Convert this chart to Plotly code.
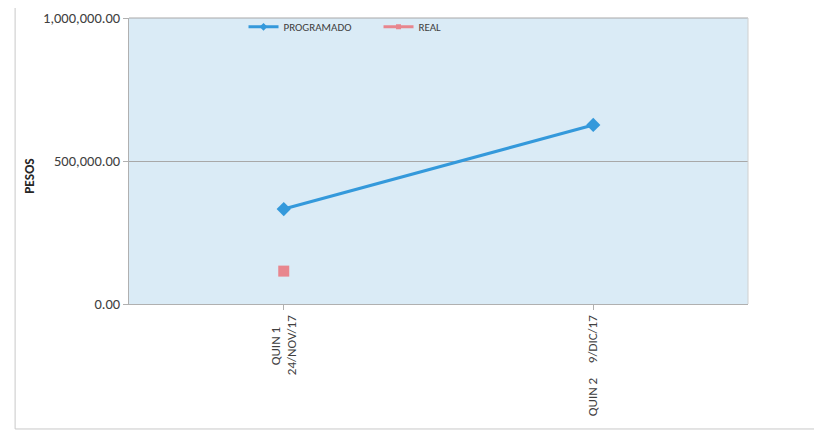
import plotly.graph_objects as go

NB = "\u00a0"
categories = ["QUIN 1" + NB * 4 + "<br>24/NOV/17", "QUIN 2" + NB * 5 + "9/DIC/17"]
programado = [332000, 626000]
real = [115000, None]
ytick_vals = [0, 500000, 1000000]
ytick_text = ["0.00", "500,000.00", "1,000,000.00"]

FONT = "Carlito, Lato, 'Liberation Sans', sans-serif"
BLUE = "#3499DB"
PINK = "#E8868E"
xs = [0, 1]

fig = go.Figure()
fig.add_trace(go.Scatter(
    x=xs, y=programado, name="PROGRAMADO", mode="lines+markers", showlegend=False,
    line=dict(color=BLUE, width=3),
    marker=dict(symbol="diamond", size=11, color=BLUE),
))
fig.add_trace(go.Scatter(
    x=xs, y=real, name="REAL", mode="lines+markers", showlegend=False,
    line=dict(color=PINK, width=3),
    marker=dict(symbol="square", size=11, color=PINK),
))
# legend entries with small symbols
fig.add_trace(go.Scatter(
    x=[None], y=[None], name="PROGRAMADO", mode="lines+markers",
    line=dict(color=BLUE, width=3), marker=dict(symbol="diamond", size=6, color=BLUE),
))
fig.add_trace(go.Scatter(
    x=[None], y=[None], name="REAL", mode="lines+markers",
    line=dict(color=PINK, width=3), marker=dict(symbol="square", size=5, color=PINK),
))

fig.update_layout(
    width=822, height=432,
    margin=dict(l=121, r=82, t=10, b=136, autoexpand=False),
    paper_bgcolor="white",
    plot_bgcolor="#DAEBF6",
    font=dict(family=FONT, size=13, color="#404040"),
    showlegend=True,
    legend=dict(orientation="h", x=0.185, y=1.02, xanchor="left", yanchor="top",
                bgcolor="rgba(0,0,0,0)", font=dict(size=11, color="#404040"),
                itemwidth=30, entrywidth=90, entrywidthmode="pixels"),
    xaxis=dict(
        range=[-0.5, 1.5], tickmode="array", tickvals=xs, ticktext=categories,
        tickangle=-90, showgrid=False, showline=True, linecolor="#B0B0B0",
        ticks="outside", tickson="boundaries", tickcolor="#B0B0B0", ticklen=5,
        tickfont=dict(size=13, color="#404040"), zeroline=False, automargin=False,
    ),
    yaxis=dict(
        range=[0, 1000000], tickmode="array", tickvals=ytick_vals, ticktext=ytick_text,
        showgrid=True, gridcolor="#A8A8A8", gridwidth=1, zeroline=False,
        showline=True, linecolor="#B0B0B0", ticks="outside", tickcolor="#B0B0B0", ticklen=5,
        tickfont=dict(size=14.5, color="#404040"), automargin=False,
    ),
    annotations=[
        dict(text="<b>PESOS</b>", xref="paper", yref="paper", x=-0.16, y=0.448,
             xanchor="center", yanchor="middle", textangle=-90, showarrow=False,
             font=dict(size=13.5, color="#262626")),
    ],
    shapes=[
        dict(type="line", xref="paper", yref="paper", x0=0, x1=1, y0=1, y1=1,
             line=dict(color="#A8A8A8", width=1)),
        dict(type="line", xref="paper", yref="paper", x0=1, x1=1, y0=0, y1=1,
             line=dict(color="#D0D0D0", width=1)),
        dict(type="line", xref="paper", yref="paper", x0=-0.184, x1=-0.184, y0=-0.437, y1=1.07,
             line=dict(color="#C8C8C8", width=1)),
        dict(type="line", xref="paper", yref="paper", x0=-0.184, x1=1.14, y0=-0.437, y1=-0.437,
             line=dict(color="#C8C8C8", width=1)),
    ],
)

fig.write_html("out.html")
